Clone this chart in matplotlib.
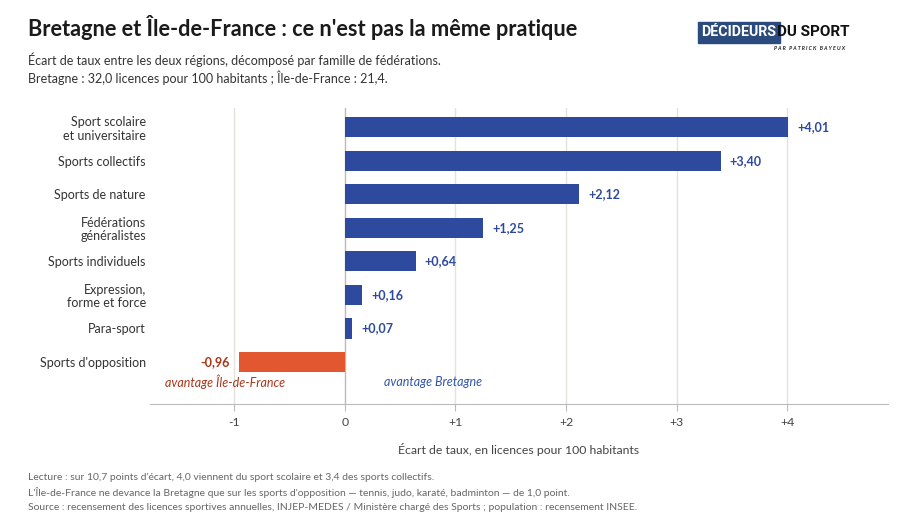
import matplotlib.pyplot as plt
from matplotlib.patches import Rectangle

plt.rcParams['font.family'] = ['Lato', 'DejaVu Sans']

# data, top to bottom
categories = [
    "Sport scolaire\net universitaire",
    "Sports collectifs",
    "Sports de nature",
    "Fédérations\ngénéralistes",
    "Sports individuels",
    "Expression,\nforme et force",
    "Para-sport",
    "Sports d'opposition",
]
values = [4.01, 3.40, 2.12, 1.25, 0.64, 0.16, 0.07, -0.96]
value_labels = ["+4,01", "+3,40", "+2,12", "+1,25", "+0,64", "+0,16", "+0,07", "-0,96"]
xticks = [-1, 0, 1, 2, 3, 4]
xtick_labels = ["-1", "0", "+1", "+2", "+3", "+4"]

BLUE = "#2E4A9F"
RED = "#E2572F"
DARK_RED = "#A8361B"
GRID = "#E4E2DA"

fig = plt.figure(figsize=(9.04, 5.26), dpi=100)
ax = fig.add_axes([150 / 904, 1 - 404 / 526, 738 / 904, 296 / 526])

ypos = list(range(len(categories)))
colors = [BLUE if v >= 0 else RED for v in values]
ax.barh(ypos, values, height=0.6, color=colors, zorder=3)

for y, v, lab in zip(ypos, values, value_labels):
    if v >= 0:
        ax.text(v + 0.08, y, lab, va='center', ha='left', fontsize=9,
                fontweight='bold', color=BLUE)
    else:
        ax.text(v - 0.08, y, lab, va='center', ha='right', fontsize=9,
                fontweight='bold', color=DARK_RED)

ax.set_xlim(-1.76, 4.91)
ax.set_ylim(len(categories) - 1 + 1.25, -0.57)
ax.set_yticks(ypos)
ax.set_yticklabels(categories, fontsize=9, color="#333333", linespacing=1.15)
ax.tick_params(axis='y', length=0, pad=3)

ax.set_xticks(xticks)
ax.set_xticklabels(xtick_labels, fontsize=8.8, color="#444444")
ax.tick_params(axis='x', length=5, color="#BBBBBB", pad=4)
ax.set_xlabel("Écart de taux, en licences pour 100 habitants", fontsize=8.8,
              color="#444444", labelpad=11)

for t in xticks:
    ax.axvline(t, color=GRID if t != 0 else "#BDBBB5", lw=1, zorder=1)

for s in ['top', 'right', 'left']:
    ax.spines[s].set_visible(False)
ax.spines['bottom'].set_color("#BBBBBB")

# side annotations
ax.text(-1.08, 7.6, "avantage Île-de-France", ha='center', va='center',
        fontsize=9, style='italic', color=DARK_RED)
ax.text(0.8, 7.6, "avantage Bretagne", ha='center', va='center',
        fontsize=9, style='italic', color="#3355AA")

# titles
fig.text(28 / 904, 1 - 28 / 526, "Bretagne et Île-de-France : ce n'est pas la même pratique",
         fontsize=15.7, fontweight='bold', color="#1A1A1A", va='center')
fig.text(28 / 904, 1 - 60 / 526,
         "Écart de taux entre les deux régions, décomposé par famille de fédérations.",
         fontsize=9, color="#333333", va='center')
fig.text(28 / 904, 1 - 78 / 526,
         "Bretagne : 32,0 licences pour 100 habitants ; Île-de-France : 21,4.",
         fontsize=9, color="#333333", va='center')

# logo
fig.patches.append(Rectangle((698 / 904, 1 - 43 / 526), 82 / 904, 21 / 526,
                             transform=fig.transFigure, color="#2B4A7E"))
fig.text(739 / 904, 1 - 32.5 / 526, "DÉCIDEURS", fontsize=10.3, fontweight='bold',
         color='white', ha='center', va='center', family=['Roboto', 'DejaVu Sans'])
fig.text(813 / 904, 1 - 32.5 / 526, "DU SPORT", fontsize=11, fontweight='bold',
         color='#111111', ha='center', va='center', family=['Roboto', 'DejaVu Sans'])
fig.text(845 / 904, 1 - 48 / 526, "P A R   P A T R I C K   B A Y E U X", fontsize=3.8,
         fontweight='bold', style='italic', color='#222222', ha='right', va='center')

# footer
notes = [
    "Lecture : sur 10,7 points d'écart, 4,0 viennent du sport scolaire et 3,4 des sports collectifs.",
    "L'Île-de-France ne devance la Bretagne que sur les sports d'opposition — tennis, judo, karaté, badminton — de 1,0 point.",
    "Source : recensement des licences sportives annuelles, INJEP-MEDES / Ministère chargé des Sports ; population : recensement INSEE.",
]
for i, line in enumerate(notes):
    fig.text(28 / 904, 1 - (478 + i * 15) / 526, line, fontsize=7.5,
             color="#666666", va='center')

fig.savefig("out.png", dpi=100)
